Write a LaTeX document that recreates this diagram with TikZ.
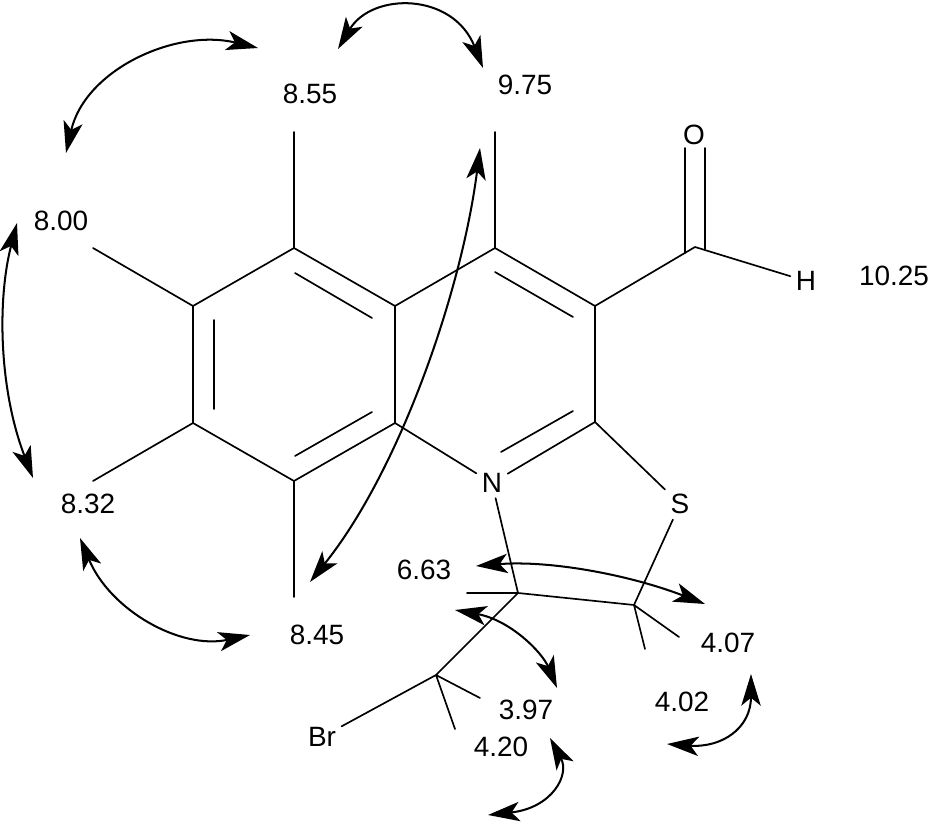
\documentclass[tikz,border=0pt]{standalone}
\usepackage{fontspec}
\setmainfont{Liberation Sans}
\usetikzlibrary{arrows.meta}
\tikzset{
	bond/.style={line width=0.95pt},
	noe/.style={line width=1.15pt, {Stealth[length=18pt,width=11pt,inset=4.5pt]}-{Stealth[length=18pt,width=11pt,inset=4.5pt]}},
	atom/.style={inner sep=3pt}
}
\begin{document}
\begin{tikzpicture}[x=0.02cm, y=-0.02cm, font=\fontsize{15.9}{18}\selectfont, line join=round, line cap=round]
	\useasboundingbox (0,0) rectangle (947,824);
	% ring atoms
	\coordinate (c1) at (294,248);
	\coordinate (c2) at (193,306);
	\coordinate (c3) at (193,423);
	\coordinate (c4) at (294,481);
	\coordinate (c5) at (395,423);
	\coordinate (c6) at (395,306);
	\coordinate (c7) at (495,248);
	\coordinate (c8) at (595,306);
	\coordinate (c9) at (595,422);
	\coordinate (cho) at (695,247);
	\coordinate (c10) at (518,593);
	\coordinate (c11) at (634,605);
	\coordinate (c12) at (436,675);
	% hetero atoms
	\node[atom] (N) at (492,483) {N};
	\node[atom] (S) at (680,504) {S};
	\node[atom] (O) at (694,135) {O};
	\node[atom] (H) at (806,281) {H};
	\node[atom] (Br) at (322,737) {Br};
	% shifts
	\node (s855) at (310,94) {8.55};
	\node (s975) at (525,85) {9.75};
	\node (s800) at (61,221) {8.00};
	\node (s832) at (88,504) {8.32};
	\node (s845) at (317,635) {8.45};
	\node (s1025) at (894,276) {10.25};
	\node (s663) at (424,570) {6.63};
	\node (s407) at (728,643) {4.07};
	\node (s402) at (682,702) {4.02};
	\node (s397) at (526,710) {3.97};
	\node (s420) at (501,747) {4.20};
	% free bond ends
	\coordinate (h1) at (294,132);
	\coordinate (h7) at (495,132);
	\coordinate (h2) at (93,248);
	\coordinate (h3) at (93,481);
	\coordinate (h4) at (294,597);
	\coordinate (h10) at (467,593);
	\coordinate (h11a) at (679,637);
	\coordinate (h11b) at (645,649);
	\coordinate (h12a) at (480,698);
	\coordinate (h12b) at (455,729);
	% skeleton
	\draw[bond] (c1)--(c2)--(c3)--(c4)--(c5)--(c6)--cycle;
	\draw[bond] (c6)--(c7)--(c8)--(c9);
	\draw[bond] (c5)--(N)--(c9);
	\draw[bond] (c9)--(S)--(c11)--(c10)--(N);
	\draw[bond] (c8)--(cho)--(H);
	\draw[bond] (c1)--(h1) (c7)--(h7) (c2)--(h2) (c3)--(h3) (c4)--(h4);
	\draw[bond] (c10)--(h10) (c11)--(h11a) (c11)--(h11b);
	\draw[bond] (c10)--(c12)--(Br) (c12)--(h12a) (c12)--(h12b);
	% inner lines of the double bonds
	\coordinate (d1a) at (295,273);
	\coordinate (d1b) at (372,318);
	\coordinate (d2a) at (214,320);
	\coordinate (d2b) at (214,409);
	\coordinate (d3a) at (295,456);
	\coordinate (d3b) at (372,412);
	\coordinate (d4a) at (495,272);
	\coordinate (d4b) at (573,317);
	\coordinate (d5a) at (501,452);
	\coordinate (d5b) at (573,411);
	\coordinate (d6a) at (685,148);
	\coordinate (d6b) at (685,253);
	\coordinate (d7a) at (705,148);
	\coordinate (d7b) at (705,249);
	\draw[bond] (d1a)--(d1b) (d2a)--(d2b) (d3a)--(d3b) (d4a)--(d4b) (d5a)--(d5b);
	\draw[bond] (d6a)--(d6b) (d7a)--(d7b);
	% arrow ends
	\coordinate (a1) at (258,48);
	\coordinate (a2) at (66,153);
	\coordinate (b1) at (338,49);
	\coordinate (b2) at (483,68);
	\coordinate (e1) at (17,223);
	\coordinate (e2) at (33,478);
	\coordinate (f1) at (80,538);
	\coordinate (f2) at (250,635);
	\coordinate (g1) at (480,148);
	\coordinate (g2) at (310,582);
	\coordinate (k1) at (476,566);
	\coordinate (k2) at (705,604);
	\coordinate (l1) at (455,610);
	\coordinate (l2) at (557,688);
	\coordinate (m1) at (751,674);
	\coordinate (m2) at (667,744);
	\coordinate (n1) at (550,738);
	\coordinate (n2) at (488,815);
	\draw[noe] (a1) .. controls (175,28) and (85,70) .. (a2);
	\draw[noe] (b1) .. controls (372,-8) and (453,-8) .. (b2);
	\draw[noe] (e1) .. controls (-3,300) and (-1,390) .. (e2);
	\draw[noe] (f1) .. controls (110,610) and (180,650) .. (f2);
	\draw[noe] (g1) .. controls (462,290) and (400,470) .. (g2);
	\draw[noe] (k1) .. controls (550,560) and (630,575) .. (k2);
	\draw[noe] (l1) .. controls (510,620) and (542,652) .. (l2);
	\draw[noe] (m1) .. controls (751,728) and (722,748) .. (m2);
	\draw[noe] (n1) .. controls (570,775) and (552,808) .. (n2);
\end{tikzpicture}
\end{document}
